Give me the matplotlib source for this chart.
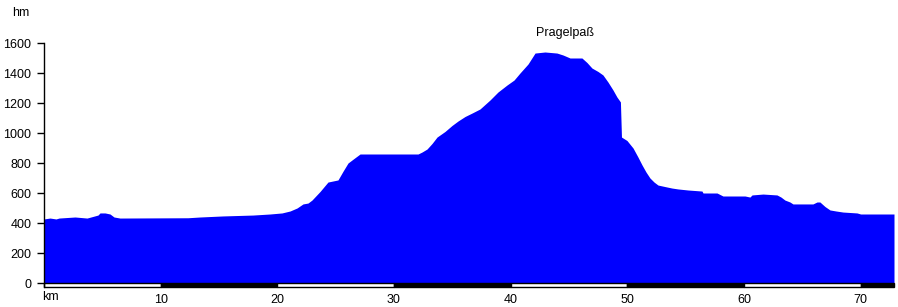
import matplotlib
matplotlib.use("Agg")
import matplotlib.pyplot as plt
from matplotlib.patches import Rectangle

plt.rcParams['font.family'] = ['Liberation Sans', 'DejaVu Sans']

# Distance (km) and elevation (m)
km = [0, 0.51, 1.03, 1.29, 2.66, 3.69, 4.63, 4.80, 5.23, 5.66, 6.00, 6.51,
      12.34, 13.37, 15.34, 17.91, 19.37, 20.40, 21.09, 21.69, 22.20, 22.63,
      22.97, 23.66, 24.34, 25.20, 25.63, 26.06, 26.57, 27.09, 32.06, 32.40,
      32.83, 33.26, 33.69, 34.37, 34.97, 35.49, 36.09, 36.69, 37.37, 38.23,
      38.91, 39.69, 40.29, 40.80, 41.49, 42.09, 42.94, 43.97, 44.49, 45.09,
      46.11, 46.54, 46.97, 47.49, 47.91, 48.34, 48.77, 49.11, 49.41, 49.50,
      49.97, 50.49, 50.91, 51.26, 51.60, 51.94, 52.29, 52.63, 53.40, 53.83,
      54.34, 55.20, 56.40, 56.49, 57.69, 58.20, 60.09, 60.51, 60.69, 61.63,
      62.83, 63.17, 63.51, 63.94, 64.20, 65.91, 66.26, 66.51, 66.94, 67.37,
      67.89, 68.49, 69.69, 70.00, 72.86]
elev = [427, 433, 427, 433, 440, 433, 453, 467, 467, 460, 440, 433,
        435, 440, 447, 453, 460, 467, 480, 500, 527, 533,
        553, 610, 673, 687, 745, 800, 830, 860, 860, 873,
        893, 930, 973, 1010, 1050, 1080, 1110, 1133, 1160, 1220,
        1273, 1320, 1353, 1400, 1460, 1533, 1540, 1533, 1520, 1500,
        1500, 1470, 1433, 1410, 1387, 1340, 1287, 1240, 1207, 973,
        950, 900, 840, 787, 740, 700, 673, 653, 640, 633,
        627, 620, 613, 600, 600, 580, 580, 573, 587, 593,
        587, 573, 553, 540, 527, 527, 540, 540, 510, 487,
        480, 473, 467, 460, 460]

y_ticks = [0, 200, 400, 600, 800, 1000, 1200, 1400, 1600]
x_ticks = [10, 20, 30, 40, 50, 60, 70]
pass_name = "Pragelpaß"

W, H = 898, 307
fig = plt.figure(figsize=(W / 100, H / 100), dpi=100)
ax = fig.add_axes([44 / W, 1 - 287 / H, 850 / W, 244 / H])

bar_h = 1600 * 4 / 240.0
ax.set_xlim(0, km[-1])
ax.set_ylim(-bar_h, 1600)

ax.fill_between(km, 0, elev, color="#0000FF", linewidth=0)

# distance bar (alternating 10 km segments)
for i, x0 in enumerate(range(0, 80, 10)):
    if x0 >= km[-1]:
        break
    x1 = min(x0 + 10, km[-1])
    ax.add_patch(Rectangle((x0, -bar_h), x1 - x0, bar_h,
                           facecolor="white" if i % 2 == 0 else "black",
                           edgecolor="black", linewidth=1.0, clip_on=False))

for s in ["top", "right", "bottom"]:
    ax.spines[s].set_visible(False)
ax.spines["left"].set_linewidth(1.0)
ax.spines["left"].set_bounds(-bar_h, 1600)

ax.set_yticks(y_ticks)
ax.set_yticklabels([str(v) for v in y_ticks], fontsize=9)
ax.tick_params(axis="y", length=5, width=1, pad=4)
ax.set_xticks(x_ticks)
ax.set_xticklabels([str(v) for v in x_ticks], fontsize=9)
ax.tick_params(axis="x", length=0, pad=5)

fig.text(21 / W, 1 - 13 / H, "hm", fontsize=9, ha="center", va="center")
fig.text(42 / W, 1 - 297 / H, "km", fontsize=9, ha="left", va="center")
fig.text(565 / W, 1 - 33 / H, pass_name, fontsize=9, ha="center", va="center")

fig.savefig("out.png", dpi=100)
